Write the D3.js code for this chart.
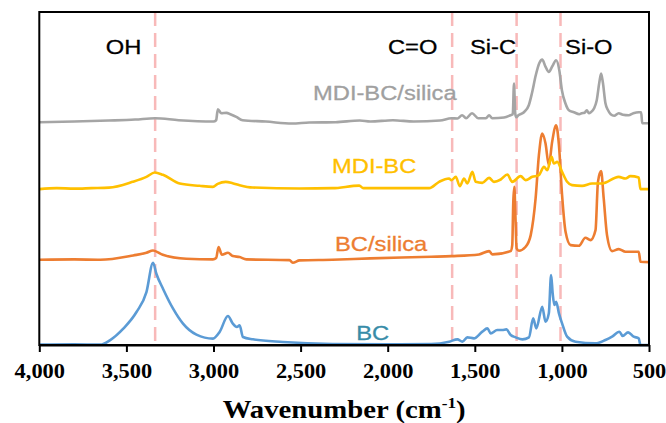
<!DOCTYPE html>
<html>
<head>
<meta charset="utf-8">
<script src="https://cdn.jsdelivr.net/npm/d3@7"></script>
<style>
  body { margin: 0; background: #fff; }
  svg { display: block; }
</style>
</head>
<body>
<svg id="chart" width="666" height="423"></svg>
<script>
// FTIR spectra, offset vertically (arbitrary absorbance units, 0-100)
// each point: [wavenumber cm-1, offset absorbance]

const bc = [
  [4000,0.1],[3800,0.2],[3650,0.1],[3595,1.4],[3518,4.9],[3442,9.9],[3385,15.9],[3347,24.7],
  [3328,21.4],[3290,16.9],[3232,10.9],[3175,6.4],[3098,3.1],[3003,1.9],[2965,3.9],[2917,8.7],
  [2889,6.4],[2866,5.4],[2850,5.9],[2831,2.4],[2774,1.7],[2602,0.9],[2317,0.3],[2000,0.2],
  [1750,0.3],[1647,1.0],[1600,1.7],[1571,1.0],[1543,2.3],[1505,2.0],[1457,4.0],[1428,5.0],
  [1409,3.5],[1371,4.5],[1342,4.5],[1319,4.7],[1294,3.0],[1265,2.3],[1227,1.7],[1189,2.3],
  [1165,8.0],[1147,5.0],[1113,11.5],[1094,7.0],[1075,9.5],[1062,21.0],[1053,15.5],[1043,12.0],
  [1033,13.0],[1017,9.5],[999,6.5],[970,2.5],[922,1.0],[807,0.5],[750,1.5],[712,2.5],
  [670,4.0],[651,2.7],[620,3.8],[588,2.5],[559,2.0],[549,0.0],[500,0.0]
];

const bcSilica = [
  [4000,25.6],[3800,25.7],[3650,25.6],[3461,26.9],[3385,27.7],[3347,28.4],[3291,27.1],[3156,25.9],
  [3003,25.7],[2985,26.1],[2971,29.4],[2952,27.1],[2917,27.7],[2889,26.7],[2850,26.4],[2812,25.7],
  [2564,25.5],[2545,24.7],[2506,25.4],[2317,25.6],[2100,26.0],[1750,26.5],[1634,26.7],[1476,27.2],
  [1418,28.2],[1399,27.2],[1294,28.2],[1285,30.0],[1279,43.0],[1273,47.5],[1267,39.0],[1260,29.0],
  [1247,28.3],[1208,29.5],[1179,33.0],[1151,44.0],[1132,57.0],[1113,63.5],[1094,60.5],[1075,54.0],
  [1056,61.0],[1033,66.0],[1017,60.0],[999,45.0],[979,34.0],[950,30.0],[903,29.8],[865,32.2],
  [836,31.5],[807,34.5],[793,49.0],[775,52.2],[760,44.0],[741,33.0],[712,28.2],[674,28.8],
  [635,28.0],[559,28.0],[549,25.0],[500,24.9]
];

const mdiBc = [
  [4000,46.8],[3900,47.1],[3800,46.95],[3700,47.1],[3600,47.25],[3465,49.0],[3385,50.5],[3337,51.8],
  [3290,51.1],[3194,48.5],[3080,47.8],[3004,47.5],[2976,48.4],[2930,49.0],[2890,48.6],[2850,48.0],
  [2775,47.3],[2506,47.0],[2317,47.1],[2163,47.85],[2140,47.1],[1762,47.1],[1705,49.0],[1648,50.0],
  [1634,49.5],[1609,50.5],[1586,47.7],[1562,50.0],[1543,48.5],[1514,52.0],[1495,49.0],[1457,48.7],
  [1418,50.2],[1390,49.0],[1351,49.7],[1313,51.2],[1285,49.0],[1237,50.7],[1208,49.5],[1170,50.5],
  [1132,51.0],[1103,53.5],[1084,52.5],[1059,56.5],[1046,54.5],[1027,55.0],[999,52.0],[970,49.0],
  [942,48.0],[884,47.8],[827,48.5],[770,48.5],[674,50.5],[635,50.0],[607,50.7],[559,50.3],
  [549,46.8],[500,46.8]
];

const mdiBcSilica = [
  [4000,66.9],[3800,67.1],[3600,67.4],[3450,67.7],[3335,68.1],[3200,67.5],[3000,67.1],[2985,67.5],
  [2975,70.8],[2955,69.6],[2926,69.7],[2900,69.2],[2869,68.5],[2833,67.5],[2700,67.1],[2550,66.5],
  [2450,66.8],[2300,66.9],[2160,67.4],[2100,67.1],[1970,67.5],[1850,67.1],[1700,67.4],[1634,68.1],
  [1600,68.0],[1573,69.0],[1550,68.1],[1516,69.6],[1480,68.1],[1436,68.1],[1418,69.0],[1400,68.1],
  [1332,68.3],[1295,69.0],[1282,69.3],[1275,78.5],[1268,69.6],[1262,68.4],[1250,69.0],[1218,69.9],
  [1190,72.0],[1172,75.6],[1150,81.0],[1130,84.6],[1113,85.7],[1095,83.7],[1075,82.0],[1055,83.7],
  [1033,85.5],[1015,82.5],[1000,76.5],[980,72.6],[960,70.5],[931,69.9],[900,69.3],[886,69.6],
  [870,69.75],[857,70.5],[845,69.6],[834,69.9],[815,71.1],[800,73.5],[785,78.9],[775,81.5],
  [765,78.9],[750,72.6],[735,70.5],[720,69.3],[700,68.85],[674,69.6],[650,69.15],[617,69.0],
  [590,69.6],[559,69.9],[545,69.9],[539,66.6],[500,66.6]
];

const seriesNames = ["BC", "BC/silica", "MDI-BC", "MDI-BC/silica"];
const seriesData = [bc, bcSilica, mdiBc, mdiBcSilica];

// characteristic band positions (cm-1) and their labels
const bandPositions = [3335, 1630, 1260, 1008];
const bandLabels = ["OH", "C=O", "Si-C", "Si-O"];

const tickValues = [4000, 3500, 3000, 2500, 2000, 1500, 1000, 500];

// ---------- layout & styles ----------
const plot = { left: 39.3, right: 649, top: 12, bottom: 345 };
const colors = ["#5b9bd5", "#ed7d31", "#ffc000", "#a5a5a5"];
const labelColors = ["#378ca8", "#ed7d31", "#ffc000", "#a0a0a0"];
const seriesLabelPos = [[356.3, 340.3], [335, 251], [332, 173.3], [313, 100]];
const bandLabelX = [123.5, 412.7, 493, 588.8];
const sansFont = "'Liberation Sans', Arial, sans-serif";
const serifFont = "'Liberation Serif', 'Times New Roman', serif";
const stretch = 1.13;

const svg = d3.select("#chart");

const x = d3.scaleLinear().domain([4000, 500]).range([plot.left, plot.right]);
const y = d3.scaleLinear().domain([0, 100]).range([plot.bottom, plot.top]);

// dashed band markers (behind the spectra)
svg.append("g").selectAll("line")
  .data(bandPositions)
  .join("line")
  .attr("x1", d => x(d)).attr("x2", d => x(d))
  .attr("y1", plot.top).attr("y2", plot.bottom)
  .attr("stroke", "#f8b9b9")
  .attr("stroke-width", 2.5)
  .attr("stroke-dasharray", "14,7");

// spectra
const line = d3.line()
  .x(d => x(d[0]))
  .y(d => y(d[1]))
  .curve(d3.curveMonotoneX);
svg.append("g").selectAll("path")
  .data(seriesData)
  .join("path")
  .attr("d", line)
  .attr("fill", "none")
  .attr("stroke", (d, i) => colors[i])
  .attr("stroke-width", 2.6)
  .attr("stroke-linejoin", "round");

// plot frame
svg.append("rect")
  .attr("x", plot.left).attr("y", plot.top)
  .attr("width", plot.right - plot.left)
  .attr("height", plot.bottom - plot.top)
  .attr("fill", "none")
  .attr("stroke", "#000")
  .attr("stroke-width", 2);

// bottom axis
const axis = svg.append("g")
  .attr("transform", `translate(0,${plot.bottom})`)
  .call(d3.axisBottom(x)
    .tickValues(tickValues)
    .tickFormat(d3.format(","))
    .tickSize(7)
    .tickSizeOuter(0));
axis.select(".domain").attr("stroke", "#000").attr("stroke-width", 2);
axis.selectAll(".tick line").attr("stroke", "#000").attr("stroke-width", 2);
axis.selectAll(".tick text")
  .attr("y", 33.5)
  .attr("dy", null)
  .attr("fill", "#000")
  .attr("font-family", serifFont)
  .attr("font-weight", "bold")
  .attr("font-size", 20)
  .attr("transform", "scale(1.12,1)");

// axis title
const title = svg.append("text")
  .attr("transform", `translate(${(plot.left + plot.right) / 2},418) scale(1.15,1)`)
  .attr("text-anchor", "middle")
  .attr("font-family", serifFont)
  .attr("font-weight", "bold")
  .attr("font-size", 25)
  .attr("fill", "#000");
title.append("tspan").text("Wavenumber (cm");
title.append("tspan").attr("font-size", 15).attr("dy", -10).text("-1");
title.append("tspan").attr("dy", 10).text(")");

// band labels
svg.append("g").selectAll("text")
  .data(bandLabels)
  .join("text")
  .attr("transform", (d, i) => `translate(${bandLabelX[i]},54) scale(${stretch},1)`)
  .attr("text-anchor", "middle")
  .attr("font-family", sansFont)
  .attr("font-size", 21)
  .attr("fill", "#000")
  .attr("stroke", "#000")
  .attr("stroke-width", 0.3)
  .text(d => d);

// series labels
svg.append("g").selectAll("text")
  .data(seriesNames)
  .join("text")
  .attr("transform", (d, i) => `translate(${seriesLabelPos[i][0]},${seriesLabelPos[i][1]}) scale(${stretch},1)`)
  .attr("font-family", sansFont)
  .attr("font-size", 21)
  .attr("fill", (d, i) => labelColors[i])
  .attr("stroke", (d, i) => labelColors[i])
  .attr("stroke-width", 0.3)
  .text(d => d);
</script>
</body>
</html>
